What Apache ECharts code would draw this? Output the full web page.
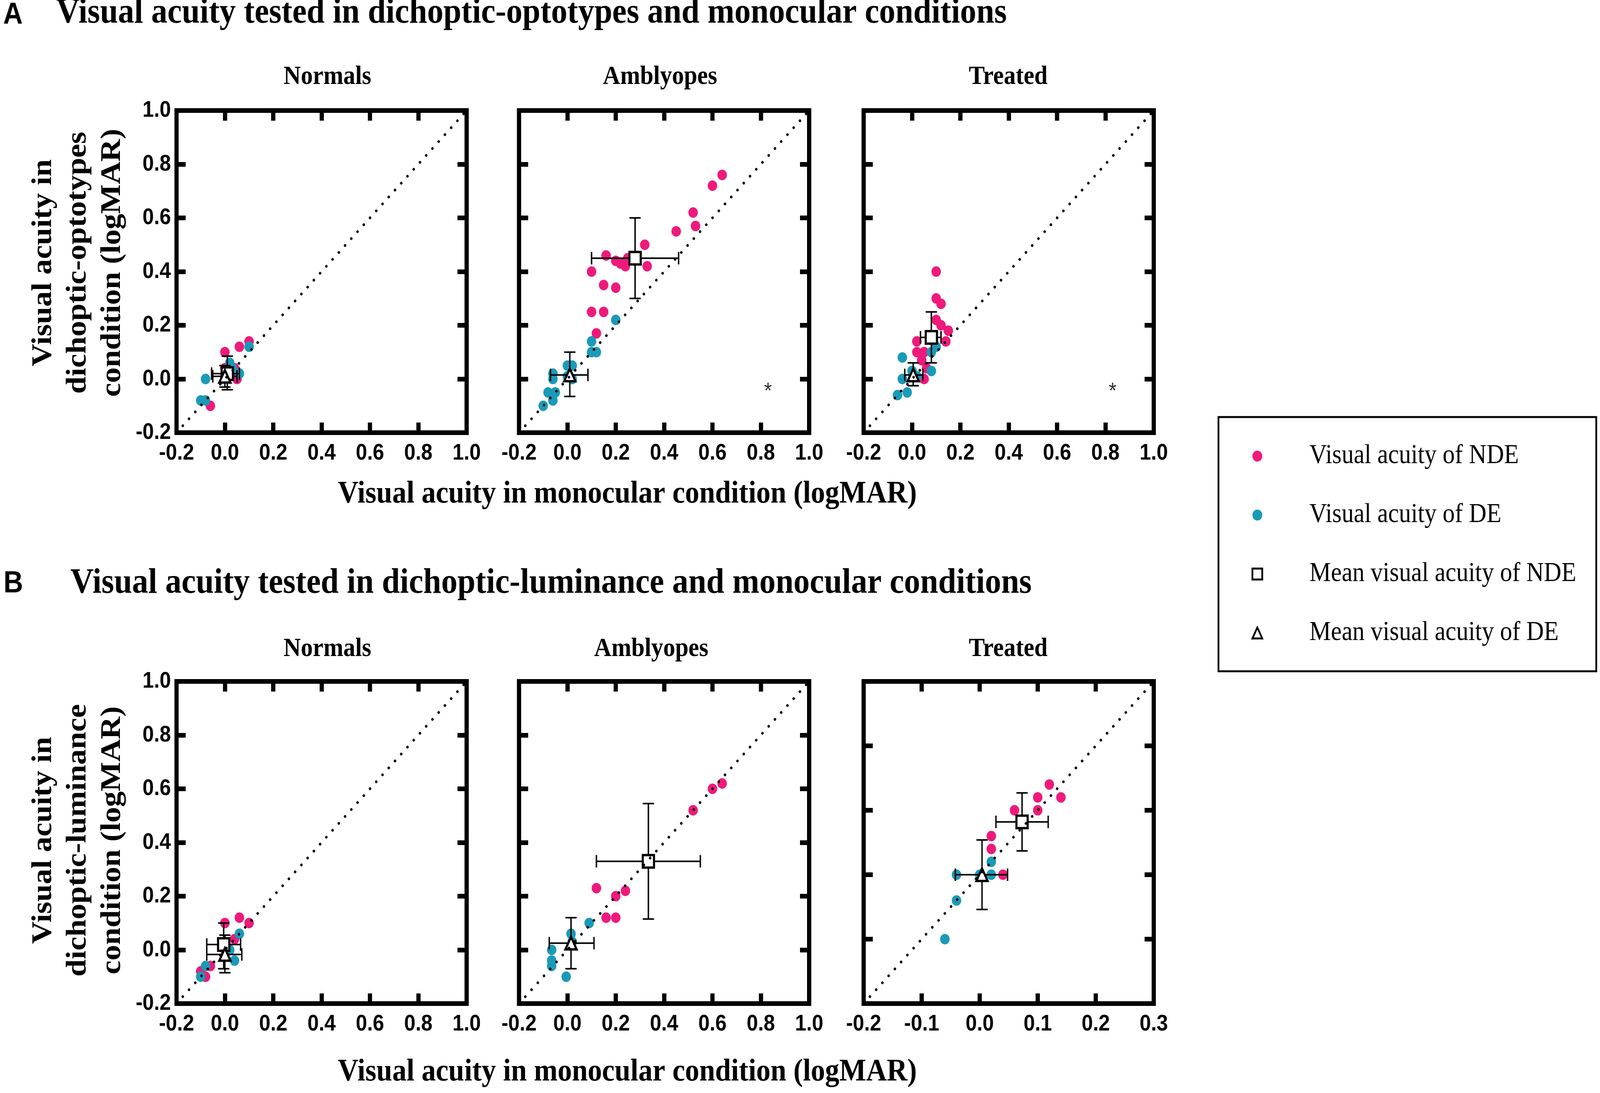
<!DOCTYPE html>
<html>
<head>
<meta charset="utf-8">
<script src="https://cdn.jsdelivr.net/npm/echarts@6/dist/echarts.min.js"></script>
<style>
html,body{margin:0;padding:0;background:#fff;overflow:hidden;}
#chart{width:4550px;height:2799px;}
</style>
</head>
<body>
<div id="chart"></div>
<script>
// ================= DATA =================
const sectionLetters = ['A', 'B'];
const sectionTitles = [
  'Visual acuity tested in dichoptic-optotypes and monocular conditions',
  'Visual acuity tested in dichoptic-luminance and monocular conditions'
];
const panelNames = ['Normals', 'Amblyopes', 'Treated'];
const xAxisTitle = 'Visual acuity in monocular condition (logMAR)';
const yAxisTitles = [
  ['Visual acuity in', 'dichoptic-optotypes', 'condition (logMAR)'],
  ['Visual acuity in', 'dichoptic-luminance', 'condition (logMAR)']
];
const seriesNames = ['Visual acuity of NDE', 'Visual acuity of DE', 'Mean visual acuity of NDE', 'Mean visual acuity of DE'];

// [min, max, interval] of both axes of each panel (A row, then B row)
const axisRanges = [
  [-0.2, 1.0, 0.2], [-0.2, 1.0, 0.2], [-0.2, 1.0, 0.2],
  [-0.2, 1.0, 0.2], [-0.2, 1.0, 0.2], [-0.2, 0.3, 0.1]
];

// ---- A: dichoptic-optotypes vs monocular ----
const optoNormalsNDE = [[0.00,0.10],[0.06,0.12],[0.10,0.14],[0.05,0.00],[-0.06,-0.10],[0.00,0.04],[0.04,0.04],[0.02,0.02]];
const optoNormalsDE  = [[-0.08,0.00],[-0.10,-0.08],[-0.08,-0.08],[0.10,0.12],[0.06,0.02],[0.02,0.06],[0.00,0.01],[0.03,0.04]];
const optoAmblyNDE = [[0.64,0.76],[0.60,0.72],[0.52,0.62],[0.53,0.57],[0.45,0.55],[0.32,0.50],[0.16,0.46],[0.20,0.44],[0.22,0.43],[0.24,0.42],[0.25,0.45],[0.33,0.42],[0.10,0.40],[0.15,0.35],[0.20,0.34],[0.10,0.25],[0.15,0.25],[0.12,0.17]];
const optoAmblyDE  = [[0.20,0.22],[0.10,0.14],[0.10,0.10],[0.12,0.10],[0.00,0.05],[0.02,0.05],[-0.06,0.02],[-0.06,0.00],[0.02,0.00],[-0.08,-0.05],[-0.05,-0.05],[-0.06,-0.08],[-0.10,-0.10],[0.00,0.01]];
const optoTreatedNDE = [[0.10,0.40],[0.10,0.30],[0.12,0.28],[0.10,0.22],[0.12,0.20],[0.15,0.18],[0.14,0.14],[0.02,0.14],[0.02,0.10],[0.05,0.10],[0.04,0.07],[0.05,0.00],[0.08,0.16],[0.06,0.04]];
const optoTreatedDE  = [[-0.04,0.08],[-0.04,0.00],[-0.06,-0.06],[-0.02,-0.05],[0.08,0.03],[0.10,0.12],[0.08,0.10],[0.00,0.03],[0.02,0.01]];

// ---- B: dichoptic-luminance vs monocular ----
const lumNormalsNDE = [[0.00,0.10],[0.06,0.12],[0.10,0.10],[0.04,0.04],[-0.06,-0.06],[-0.10,-0.08],[-0.08,-0.10],[0.00,0.00]];
const lumNormalsDE  = [[0.06,0.06],[0.04,-0.04],[-0.08,-0.06],[-0.10,-0.10],[0.02,0.00]];
const lumAmblyNDE = [[0.64,0.62],[0.60,0.60],[0.52,0.52],[0.12,0.23],[0.20,0.20],[0.24,0.22],[0.16,0.12],[0.20,0.12]];
const lumAmblyDE  = [[0.09,0.10],[0.015,0.06],[0.02,0.03],[-0.065,0.00],[-0.065,-0.04],[-0.065,-0.06],[-0.005,-0.10]];
const lumTreatedNDE = [[0.12,0.14],[0.14,0.12],[0.10,0.12],[0.10,0.10],[0.06,0.10],[0.02,0.06],[0.02,0.04],[0.04,0.00]];
const lumTreatedDE  = [[0.02,0.02],[0.02,0.00],[-0.04,0.00],[0.00,0.00],[-0.04,-0.04],[-0.06,-0.10]];

// means with error bars: [x, y, xLow, xHigh, yLow, yHigh]
const optoNormalsMeanNDE = [0.01, 0.02, -0.055, 0.06, -0.04, 0.085];
const optoNormalsMeanDE  = [0.00, 0.01, -0.05, 0.05, -0.03, 0.05];
const optoAmblyMeanNDE   = [0.28, 0.45, 0.10, 0.46, 0.30, 0.60];
const optoAmblyMeanDE    = [0.01, 0.015, -0.07, 0.085, -0.065, 0.10];
const optoTreatedMeanNDE = [0.08, 0.155, 0.035, 0.12, 0.06, 0.25];
const optoTreatedMeanDE  = [0.005, 0.015, -0.03, 0.045, -0.025, 0.06];
const lumNormalsMeanNDE  = [-0.005, 0.02, -0.075, 0.065, -0.07, 0.10];
const lumNormalsMeanDE   = [0.00, -0.017, -0.075, 0.07, -0.085, 0.055];
const lumAmblyMeanNDE    = [0.335, 0.33, 0.12, 0.55, 0.115, 0.545];
const lumAmblyMeanDE     = [0.015, 0.025, -0.075, 0.11, -0.07, 0.12];
const lumTreatedMeanNDE  = [0.073, 0.082, 0.028, 0.118, 0.037, 0.127];
const lumTreatedMeanDE   = [0.004, 0.0, -0.042, 0.048, -0.054, 0.054];

// significance asterisk positions
const optoAmblyStar = [[0.83, -0.03]];
const optoTreatedStar = [[0.83, -0.03]];

const panelNDE = [optoNormalsNDE, optoAmblyNDE, optoTreatedNDE, lumNormalsNDE, lumAmblyNDE, lumTreatedNDE];
const panelDE = [optoNormalsDE, optoAmblyDE, optoTreatedDE, lumNormalsDE, lumAmblyDE, lumTreatedDE];
const panelMeanNDE = [optoNormalsMeanNDE, optoAmblyMeanNDE, optoTreatedMeanNDE, lumNormalsMeanNDE, lumAmblyMeanNDE, lumTreatedMeanNDE];
const panelMeanDE = [optoNormalsMeanDE, optoAmblyMeanDE, optoTreatedMeanDE, lumNormalsMeanDE, lumAmblyMeanDE, lumTreatedMeanDE];
const panelStars = [[], optoAmblyStar, optoTreatedStar, [], [], []];

// ================= STYLE / LAYOUT =================
const FIG_W = 4550, FIG_H = 2799;
const PINK = '#EE1A7B';
const TEAL = '#1A9AB6';
const SERIF = '"Liberation Serif", "Times New Roman", serif';
const SANS = '"Liberation Sans", Arial, sans-serif';
const colLeft = [502, 1476, 2456];
const rowTop = [283, 1745];
const PW = 825, PH = 825;
const panelTitleX = [[931, 1877, 2867], [931, 1852, 2867]];
const panelTitleY = [197, 1662];

const fmt = v => (Math.abs(v) < 1e-9 ? 0 : v).toFixed(1);

const grids = [], xAxes = [], yAxes = [], series = [];

function tickCfg() {
  return { show: true, inside: true, length: 26, lineStyle: { color: '#000', width: 12 } };
}

function renderErrorBars(params, api) {
  const x = api.value(0), y = api.value(1);
  const pL = api.coord([api.value(2), y]), pR = api.coord([api.value(3), y]);
  const pB = api.coord([x, api.value(4)]), pT = api.coord([x, api.value(5)]);
  const cap = 16;
  const mk = (x1, y1, x2, y2) => ({ type: 'line', shape: { x1, y1, x2, y2 }, style: { stroke: '#000', lineWidth: 4, fill: null } });
  return {
    type: 'group',
    children: [
      mk(pL[0], pL[1], pR[0], pR[1]),
      mk(pL[0], pL[1] - cap, pL[0], pL[1] + cap),
      mk(pR[0], pR[1] - cap, pR[0], pR[1] + cap),
      mk(pB[0], pB[1], pT[0], pT[1]),
      mk(pB[0] - cap, pB[1], pB[0] + cap, pB[1]),
      mk(pT[0] - cap, pT[1], pT[0] + cap, pT[1])
    ]
  };
}

for (let g = 0; g < 6; g++) {
  const r = Math.floor(g / 3), c = g % 3;
  const [mn, mx, iv] = axisRanges[g];
  grids.push({
    left: colLeft[c], top: rowTop[r], width: PW, height: PH,
    show: true, borderColor: '#000', borderWidth: 12, backgroundColor: 'transparent',
    containLabel: false, outerBoundsMode: 'none'
  });
  const labelX = { show: true, margin: 24, fontFamily: SANS, fontWeight: 'bold', fontSize: 58, lineHeight: 58, color: '#000', formatter: fmt, showMinLabel: true, showMaxLabel: true, hideOverlap: false };
  const labelY = { show: c === 0, margin: 16, fontFamily: SANS, fontWeight: 'bold', fontSize: 58, lineHeight: 58, color: '#000', formatter: fmt, showMinLabel: true, showMaxLabel: true, hideOverlap: false };
  const base = { type: 'value', gridIndex: g, min: mn, max: mx, interval: iv, axisLine: { show: false, onZero: false }, splitLine: { show: false }, axisTick: tickCfg() };
  xAxes.push(Object.assign({}, base, { position: 'bottom', axisLabel: labelX }));
  xAxes.push(Object.assign({}, base, { position: 'top', axisLabel: { show: false } }));
  yAxes.push(Object.assign({}, base, { position: 'left', axisLabel: labelY }));
  yAxes.push(Object.assign({}, base, { position: 'right', axisLabel: { show: false } }));

  const ax = { xAxisIndex: 2 * g, yAxisIndex: 2 * g };
  series.push(Object.assign({
    name: seriesNames[0], type: 'scatter', data: panelNDE[g], symbol: 'circle', symbolSize: 27,
    itemStyle: { color: PINK, opacity: 1 }, z: 2, emphasis: { disabled: true }
  }, ax));
  series.push(Object.assign({
    name: seriesNames[1], type: 'scatter', data: panelDE[g], symbol: 'circle', symbolSize: 27,
    itemStyle: { color: TEAL, opacity: 1 }, z: 3, emphasis: { disabled: true }
  }, ax));
  series.push(Object.assign({
    type: 'custom', renderItem: renderErrorBars, encode: { x: 0, y: 1 },
    data: [panelMeanNDE[g], panelMeanDE[g]], z: 4, silent: true
  }, ax));
  series.push(Object.assign({
    name: seriesNames[2], type: 'scatter', data: [panelMeanNDE[g].slice(0, 2)], symbol: 'rect', symbolSize: 32,
    itemStyle: { color: '#fff', borderColor: '#000', borderWidth: 6, opacity: 1 }, z: 5, emphasis: { disabled: true }
  }, ax));
  series.push(Object.assign({
    name: seriesNames[3], type: 'scatter', data: [panelMeanDE[g].slice(0, 2)], symbol: 'triangle', symbolSize: 32,
    itemStyle: { color: '#fff', borderColor: '#000', borderWidth: 6, opacity: 1 }, z: 6, emphasis: { disabled: true }
  }, ax));
  series.push(Object.assign({
    type: 'line', data: [[mn, mn], [mx, mx]], symbol: 'none', silent: true, z: 7,
    lineStyle: { color: '#000', width: 7, type: [0.1, 25], cap: 'round' }
  }, ax));
  if (panelStars[g].length) {
    series.push(Object.assign({
      type: 'scatter', data: panelStars[g], symbol: 'circle', symbolSize: 1, silent: true, z: 8,
      itemStyle: { color: 'rgba(0,0,0,0)' },
      label: { show: true, position: 'inside', formatter: '*', fontFamily: SANS, fontSize: 58, color: '#000', offset: [0, 13] }
    }, ax));
  }
}

function txt(x, y, text, font, align, extra) {
  return Object.assign({
    type: 'text', x, y, silent: true,
    style: { text, font, fill: '#000', align: align, verticalAlign: 'middle', textAlign: align, textVerticalAlign: 'middle' }
  }, extra || {});
}

const graphics = [
  txt(9, 40, sectionLetters[0], 'bold 77px ' + SANS, 'left'),
  txt(160, 34, sectionTitles[0], 'bold 92px ' + SERIF, 'left'),
  txt(10, 1496, sectionLetters[1], 'bold 77px ' + SANS, 'left'),
  txt(200, 1494, sectionTitles[1], 'bold 92px ' + SERIF, 'left'),
  txt(1784, 1266, xAxisTitle, 'bold 81px ' + SERIF, 'center'),
  txt(1784, 2746, xAxisTitle, 'bold 81px ' + SERIF, 'center')
];
for (let r = 0; r < 2; r++) {
  for (let c = 0; c < 3; c++) {
    graphics.push(txt(panelTitleX[r][c], panelTitleY[r], panelNames[c], 'bold 68px ' + SERIF, 'center'));
  }
}
const yTitleY = [673, 2152];
for (let r = 0; r < 2; r++) {
  graphics.push({
    type: 'text', x: 222, y: yTitleY[r], rotation: Math.PI / 2, silent: true,
    style: { text: yAxisTitles[r].join('\n'), font: 'bold 80px ' + SERIF, lineHeight: 98, fill: '#000',
      align: 'center', verticalAlign: 'middle', textAlign: 'center', textVerticalAlign: 'middle' }
  });
}

const option = {
  backgroundColor: '#fff',
  animation: false,
  grid: grids,
  xAxis: xAxes,
  yAxis: yAxes,
  legend: {
    show: true, orient: 'vertical', left: 3465, top: 1068,
    padding: [60, 57, 58, 94], itemGap: 71, itemWidth: 28, itemHeight: 28,
    borderColor: '#000', borderWidth: 5, backgroundColor: '#fff', selectedMode: false,
    textStyle: { fontFamily: SERIF, fontSize: 69, lineHeight: 80, color: '#000', padding: [0, 0, 0, 129] },
    data: [
      { name: seriesNames[0], icon: 'circle', itemStyle: { color: PINK, borderWidth: 0 } },
      { name: seriesNames[1], icon: 'circle', itemStyle: { color: TEAL, borderWidth: 0 } },
      { name: seriesNames[2], icon: 'rect', itemStyle: { color: '#fff', borderColor: '#000', borderWidth: 5 } },
      { name: seriesNames[3], icon: 'triangle', itemStyle: { color: '#fff', borderColor: '#000', borderWidth: 5 } }
    ]
  },
  graphic: graphics,
  series: series
};

// Fit the 4550x2799 figure into the actual viewport (the browser may cap the window size).
const chartEl = document.getElementById('chart');
const vw = window.innerWidth || FIG_W, vh = window.innerHeight || FIG_H;
const sx = vw / FIG_W, sy = vh / FIG_H;
if (Math.abs(sx - 1) > 1e-3 || Math.abs(sy - 1) > 1e-3) {
  chartEl.style.transformOrigin = '0 0';
  chartEl.style.transform = 'scale(' + sx + ',' + sy + ')';
}
const chart = echarts.init(chartEl, null, { renderer: 'canvas', width: FIG_W, height: FIG_H });
chart.setOption(option);
</script>
</body>
</html>
